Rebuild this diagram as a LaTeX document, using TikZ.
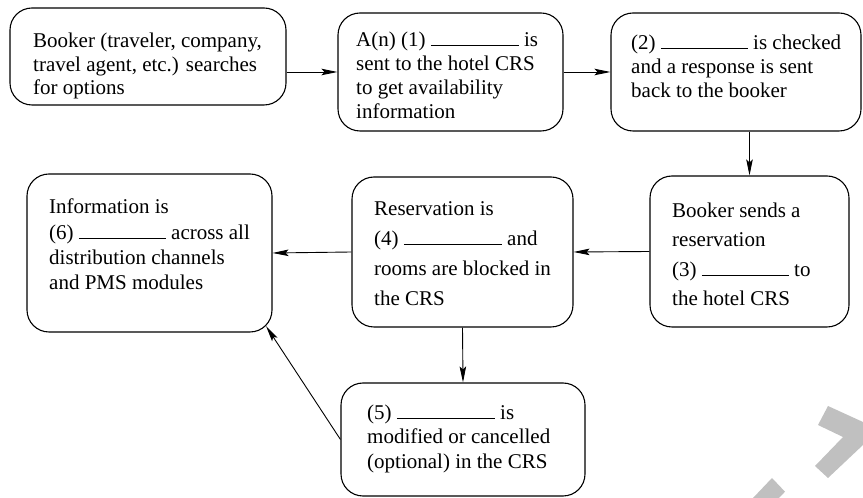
\documentclass[tikz,border=0pt]{standalone}
\usepackage{fontspec}
\setmainfont{Liberation Serif}
\usetikzlibrary{arrows.meta,calc}
\definecolor{wm}{HTML}{C0C0C0}
\newcommand\blank[1]{\rule[0.6pt]{#1}{0.9pt}}
\newcommand\tlines[2]{\vtop{\baselineskip=#1\lineskiplimit=-20pt\relax #2}}
\begin{document}
\begin{tikzpicture}[x=1pt,y=1pt,
  box/.style={draw, line width=1.1pt, rounded corners=22pt, inner sep=0pt},
  txt/.style={inner sep=0pt, anchor=base west, font=\fontsize{21}{24}\selectfont},
  arr/.style={line width=0.9pt, -{Stealth[length=16pt,width=6.5pt,inset=3pt]}}]
\useasboundingbox (0,0) rectangle (863,498);
\begin{scope}
\clip (0,0) rectangle (863,498);
\fill[wm] (828,92) -- (863,76) -- (863,53) -- (828,20) -- (815,32) -- (843,61) -- (818,73) -- cycle;
\fill[wm] (772,20) -- (785,6.3) -- (779,0) -- (753,0) -- cycle;
\end{scope}
% boxes
\node[box, minimum width=276pt, minimum height=97pt]  (b1) at (148,441.5) {};
\node[box, minimum width=225pt, minimum height=118pt] (b2) at (450.5,426) {};
\node[box, minimum width=250pt, minimum height=118pt] (b3) at (736,426) {};
\node[box, minimum width=199pt, minimum height=151pt] (b4) at (749.5,246.5) {};
\node[box, minimum width=221pt, minimum height=150pt] (b5) at (462.5,246) {};
\node[box, minimum width=245pt, minimum height=158pt] (b6) at (149.5,245) {};
\node[box, minimum width=244pt, minimum height=113pt] (b7) at (463,58.5) {};
% texts
\node[txt] (t1) at (33,450) {\tlines{23.3pt}{\hbox{Booker (traveler, company,}\hbox{travel agent, etc.) searches}\hbox{for options}}};
\node[txt] (t2) at (356,451) {\tlines{23.7pt}{\hbox{A(n) (1) \blank{88pt} is}\hbox{sent to the hotel CRS}\hbox{to get availability}\hbox{information}}};
\node[txt] (t3) at (631,448.5) {\tlines{24pt}{\hbox{(2) \blank{87pt} is checked}\hbox{and a response is sent}\hbox{back to the booker}}};
\node[txt] (t4) at (672,280.5) {\tlines{29.3pt}{\hbox{Booker sends a}\hbox{reservation}\hbox{(3) \blank{87pt} to}\hbox{the hotel CRS}}};
\node[txt] (t5) at (374,282) {\tlines{30pt}{\hbox{Reservation is}\hbox{(4) \blank{98pt} and}\hbox{rooms are blocked in}\hbox{the CRS}}};
\node[txt] (t6) at (49,284) {\tlines{25.3pt}{\hbox{Information is}\hbox{(6) \blank{87pt} across all}\hbox{distribution channels}\hbox{and PMS modules}}};
\node[txt] (t7) at (367,78.5) {\tlines{24.3pt}{\hbox{(5) \blank{98pt} is}\hbox{modified or cancelled}\hbox{(optional) in the CRS}}};
% connectors
\coordinate (c6) at ($(b6.south east)+(-6.5,6.5)$);
\draw[arr] (b1.east |- b2.west) -- (b2.west);
\draw[arr] (b2.east) -- (b3.west);
\draw[arr] (b3.south -| b4.north) -- (b4.north);
\draw[arr] (b4.west) -- (b5.east);
\draw[arr] (b5.west) -- (b6.east);
\draw[arr] (b5.south) -- (b7.north);
\draw[arr] (b7.west) -- (c6);
\end{tikzpicture}
\end{document}
